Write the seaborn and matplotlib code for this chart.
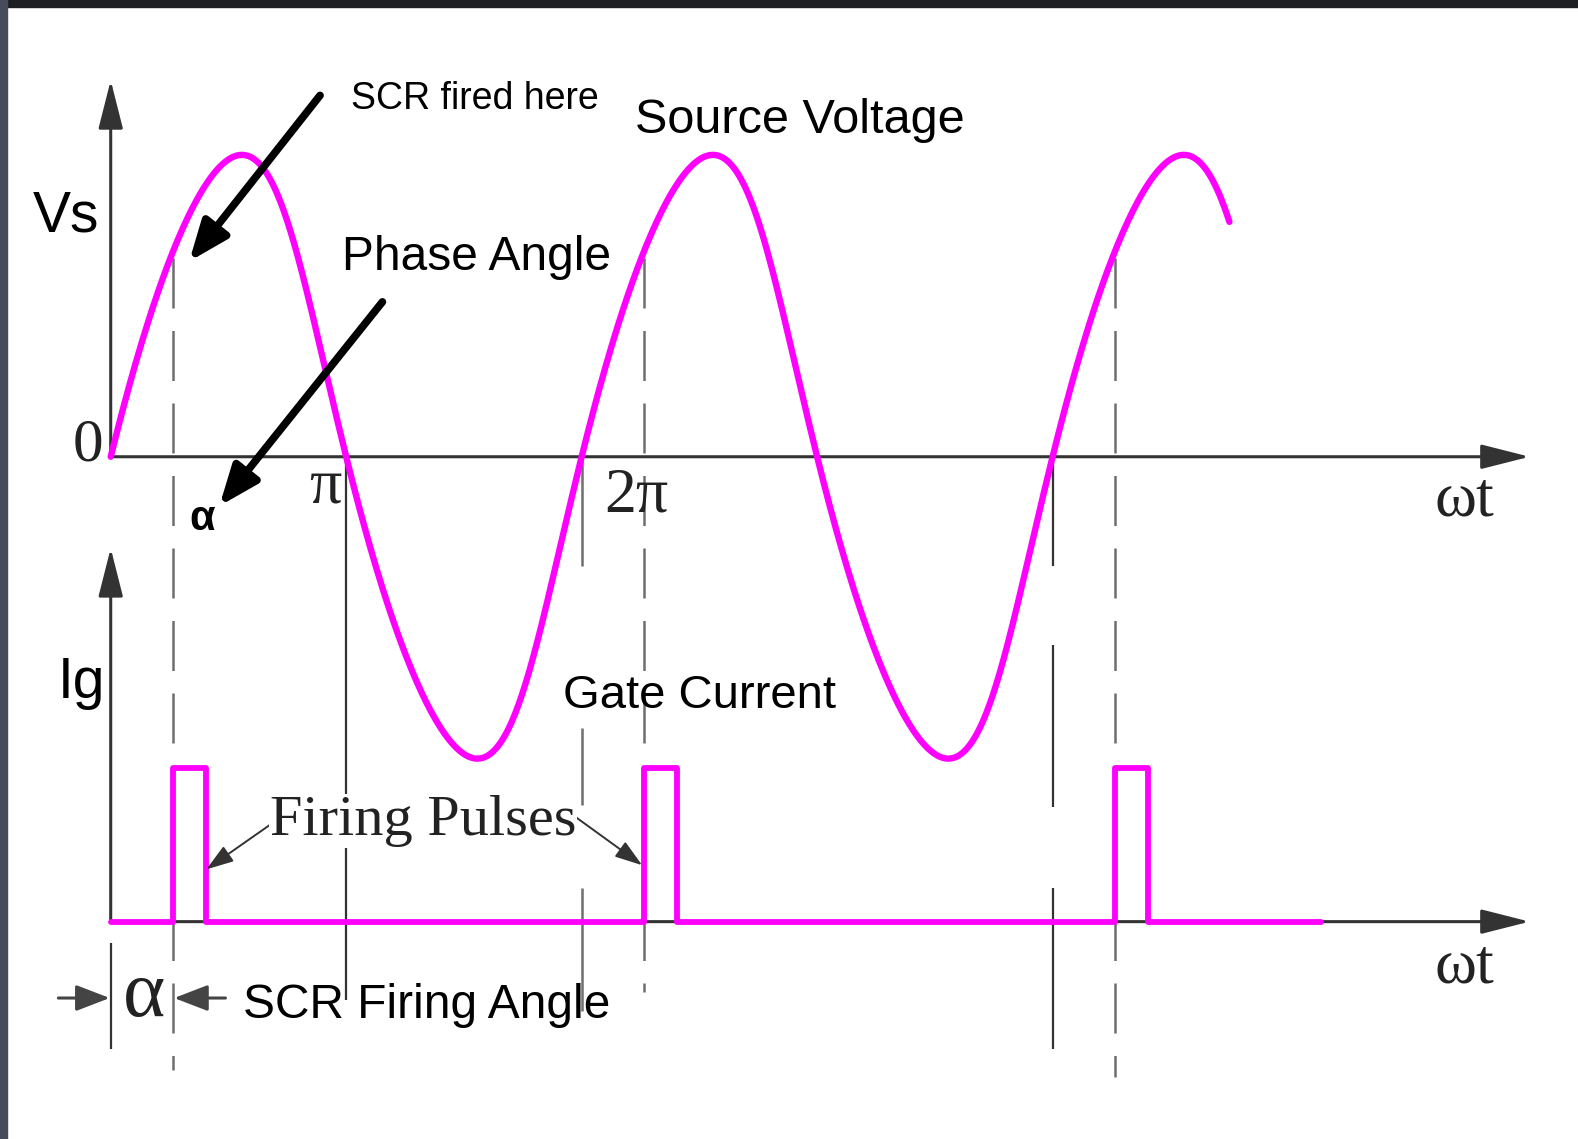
import numpy as np
import pandas as pd
import seaborn as sns
import matplotlib
matplotlib.use("Agg")
import matplotlib.pyplot as plt
from matplotlib.patches import Rectangle

# Waveform values (x in radians of wt, y in units of Vm)
amplitude = 1.0
skew = 0.18                 # the drawn sine leans a little to the right
wave_end = 4 * np.pi + 2.25  # sine stops just past the third peak
alpha = 0.83                # firing angle, rad
pulse_starts = [alpha, 2 * np.pi + alpha, 4 * np.pi + alpha]
pulse_width = 0.44
pulse_height = 0.51
gate_base = -1.54           # zero line of the gate current axis
gate_end = 16.15
axis_end = 18.93

# Source voltage
phi = np.linspace(0, wave_end, 800)
vs = pd.DataFrame({"wt": phi + skew * np.sin(phi) ** 2,
                   "v": amplitude * np.sin(phi)})

# Gate current pulse train
gx, gy = [0.0], [gate_base]
for s in pulse_starts:
    gx += [s, s, s + pulse_width, s + pulse_width]
    gy += [gate_base, gate_base + pulse_height, gate_base + pulse_height, gate_base]
gx.append(gate_end)
gy.append(gate_base)
ig = pd.DataFrame({"wt": gx, "i": gy})

sns.set_theme(style="white")
SANS = ["Liberation Sans", "DejaVu Sans"]
SERIF = ["Liberation Serif", "DejaVu Serif"]

fig = plt.figure(figsize=(15.78, 11.39), dpi=100)
ax = fig.add_axes([0, 0, 1, 1])
ax.set_xlim(-1.477, 19.576)
ax.set_ylim(-2.26, 1.513)
ax.axis("off")

axis_col = "#333333"
guide_col = "#6e6e6e"

# dashed lines at the firing instants
dash_bottoms = [-2.03, -1.773, -2.053]
for s, bottom in zip(pulse_starts, dash_bottoms):
    ax.plot([s, s], [0.657, bottom], color=guide_col, lw=1.8,
            dashes=(20, 9), zorder=1)

# solid guide lines at the zero crossings
ax.vlines(np.pi, -1.8, 0, color=axis_col, lw=1.6, zorder=1)
ax.vlines([2 * np.pi] * 3, [-0.363, -1.153, -1.837], [0, -0.9, -1.427],
          color=guide_col, lw=1.8, zorder=1)
ax.vlines([4 * np.pi] * 3, [-0.363, -1.16, -1.963], [0, -0.623, -1.427],
          color=axis_col, lw=1.6, zorder=1)
ax.vlines(0, -1.963, -1.61, color=axis_col, lw=1.6, zorder=1)

# axes with arrow heads
head = dict(arrowstyle="-|>,head_length=1.5,head_width=0.38",
            mutation_scale=20, shrinkA=0, shrinkB=0)
for (x0, y0), (x1, y1) in [((0, 0), (axis_end, 0)),
                           ((0, gate_base), (axis_end, gate_base)),
                           ((0, 0), (0, 1.247)),
                           ((0, gate_base), (0, -0.303))]:
    ax.annotate("", xy=(x1, y1), xytext=(x0, y0),
                arrowprops=dict(color=axis_col, lw=2.2, **head), zorder=2)

sns.lineplot(data=vs, x="wt", y="v", sort=False, estimator=None,
             color="#ff00ff", lw=4.6, ax=ax, zorder=3)
sns.lineplot(data=ig, x="wt", y="i", sort=False, estimator=None,
             color="#ff00ff", lw=4.2, ax=ax, zorder=3)

# thick pointer arrows
thick = dict(arrowstyle="-|>,head_length=0.6,head_width=0.24",
             mutation_scale=40, color="black", lw=5.5, shrinkA=0, shrinkB=0)
ax.annotate("", xy=(1.047, 0.647), xytext=(2.793, 1.197), arrowprops=thick, zorder=4)
ax.annotate("", xy=(1.45, -0.163), xytext=(3.625, 0.513), arrowprops=thick, zorder=4)

# thin arrows for the firing pulses
thin = dict(arrowstyle="-|>,head_length=1.2,head_width=0.4",
            mutation_scale=14, color="#333333", lw=1.4, shrinkA=0, shrinkB=0)
ax.annotate("", xy=(1.275, -1.367), xytext=(2.121, -1.22), arrowprops=thin, zorder=4)
ax.annotate("", xy=(7.09, -1.353), xytext=(6.2, -1.193), arrowprops=thin, zorder=4)

# firing angle dimension arrows
dim = dict(arrowstyle="-|>,head_length=1.3,head_width=0.5",
           mutation_scale=16, color="#444444", lw=2.2, shrinkA=0, shrinkB=0)
ax.annotate("", xy=(-0.013, -1.793), xytext=(-0.698, -1.793), arrowprops=dim, zorder=4)
ax.annotate("", xy=(0.846, -1.793), xytext=(1.531, -1.793), arrowprops=dim, zorder=4)

# labels
def label(x, y, s, size, family, color="black", weight="normal", **kw):
    ax.text(x, y, s, fontsize=size, family=family, color=color,
            fontweight=weight, ha="left", va="baseline", zorder=5, **kw)

label(3.2, 1.153, "SCR fired here", 27, SANS)
label(7.0, 1.073, "Source Voltage", 35, SANS)
label(3.09, 0.62, "Phase Angle", 34.5, SANS)
label(-1.034, 0.747, "Vs", 41, SANS)
label(-0.712, -0.80, "Ig", 41, SANS)
label(6.04, -0.833, "Gate Current", 34, SANS)
label(1.759, -1.86, "SCR Firing Angle", 34.5, SANS)
label(1.047, -0.243, "α", 30, SANS, weight="bold")
label(-0.51, -0.013, "0", 44, SERIF, color="#222222")
label(2.645, -0.153, "π", 46, SERIF, color="#222222")
label(6.58, -0.18, "2π", 46, SERIF, color="#222222")
label(17.66, -0.193, "ωt", 46, SERIF, color="#222222")
label(17.66, -1.743, "ωt", 46, SERIF, color="#222222")
label(0.161, -1.853, "α", 58, SERIF, color="#222222")
label(2.121, -1.253, "Firing Pulses", 42, SERIF, color="#222222",
      bbox=dict(facecolor="white", edgecolor="none", pad=1))

# dark frame strips along the top and left edges
fig.patches.append(Rectangle((0, 1 - 7 / 1139), 1, 7 / 1139,
                             transform=fig.transFigure, color="#1e1f23", zorder=10))
fig.patches.append(Rectangle((0, 0), 7 / 1578, 1,
                             transform=fig.transFigure, color="#474c5a", zorder=10))

fig.savefig("out.png", dpi=100)
